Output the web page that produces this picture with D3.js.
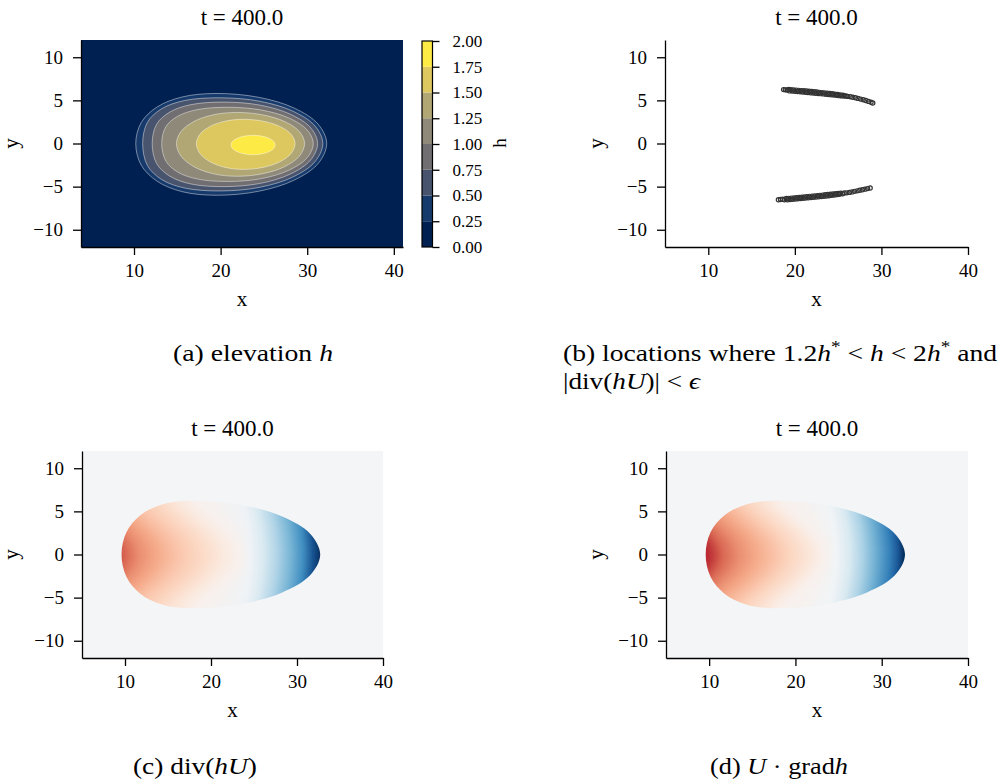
<!DOCTYPE html>
<html>
<head>
<meta charset="utf-8">
<script src="https://cdn.jsdelivr.net/npm/d3@7"></script>
<style>
body { margin: 0; background: #fff; }
svg, svg text { font-family: "Liberation Serif", "Tinos", "Times New Roman", "Nimbus Roman", "DejaVu Serif", serif; }
svg text { fill: #000; }
.axis path, .axis line { stroke: #000; stroke-width: 1.3; }
.axis text { font-size: 19px; }
.cbar text { font-size: 17px; }
.caption { font-size: 23px; }
</style>
</head>
<body>
<div id="chart"></div>
<script>
const xTicks = [10, 20, 30, 40];
const yTicks = [-10, -5, 0, 5, 10];
const hTicks = [0, 0.25, 0.5, 0.75, 1, 1.25, 1.5, 1.75, 2];
const hLevels = [0.25, 0.5, 0.75, 1.0, 1.25, 1.5, 1.75];

// contour lines of h in panel (a), [x, y]
const contour025 = [[32.25,0],[31.28,2.22],[28.51,4.1],[24.38,5.36],[19.5,5.8],[15.58,5.4],[12.69,4.25],[10.84,2.44],[10.2,0],[10.84,-2.53],[12.69,-4.39],[15.58,-5.59],[19.5,-6.0],[24.38,-5.54],[28.51,-4.24],[31.28,-2.3]];
const contour050 = [[31.8,0],[30.9,2.03],[28.34,3.75],[24.52,4.9],[20,5.3],[15.82,4.98],[13.18,4.02],[11.55,2.46],[11.0,0],[11.55,-2.55],[13.18,-4.17],[15.82,-5.16],[20,-5.5],[24.52,-5.08],[28.34,-3.89],[30.9,-2.11]];
const contour075 = [[31.2,0],[30.39,1.84],[28.06,3.39],[24.6,4.44],[20.5,4.8],[16.6,4.51],[14.13,3.64],[12.61,2.23],[12.1,0],[12.61,-2.32],[14.13,-3.79],[16.6,-4.7],[20.5,-5.0],[24.6,-4.62],[28.06,-3.54],[30.39,-1.92]];
const contour100 = [[30.7,0],[29.96,1.61],[27.86,2.97],[24.72,3.88],[21,4.2],[17.38,3.94],[15.09,3.18],[13.68,1.95],[13.2,0],[13.68,-2.04],[15.09,-3.34],[17.38,-4.13],[21,-4.4],[24.72,-4.07],[27.86,-3.11],[29.96,-1.69]];
const contour125 = [[29.7,0],[29.1,1.38],[27.39,2.55],[24.83,3.33],[21.8,3.6],[19.16,3.33],[16.92,2.55],[15.42,1.38],[14.9,0],[15.42,-1.46],[16.92,-2.69],[19.16,-3.51],[21.8,-3.8],[24.83,-3.51],[27.39,-2.69],[29.1,-1.46]];
const contour150 = [[28.6,0],[28.14,1.07],[26.84,1.98],[24.9,2.59],[22.6,2.8],[20.53,2.59],[18.78,1.98],[17.61,1.07],[17.2,0],[17.61,-1.15],[18.78,-2.12],[20.53,-2.77],[22.6,-3.0],[24.9,-2.77],[26.84,-2.12],[28.14,-1.15]];
const contour175 = [[26.3,-0.17],[26.11,0.26],[25.55,0.62],[24.73,0.86],[23.75,0.95],[22.77,0.86],[21.95,0.62],[21.39,0.26],[21.2,-0.17],[21.39,-0.6],[21.95,-0.97],[22.77,-1.21],[23.75,-1.3],[24.73,-1.21],[25.55,-0.97],[26.11,-0.6]];
const hContours = [contour025, contour050, contour075, contour100, contour125, contour150, contour175];

// selected locations, panel (b)
const upperArc = [[18.7,6.25],[18.9,6.22],[19.1,6.2],[19.3,6.26],[19.4,6.1],[19.55,6.24],[19.7,6.08],[19.85,6.22],[20.0,6.05],[20.15,6.19],[20.3,6.02],[20.45,6.16],[20.6,6.0],[20.75,6.13],[20.9,5.97],[21.05,6.11],[21.2,5.94],[21.35,6.08],[21.5,5.92],[21.65,6.06],[21.8,5.89],[21.95,6.03],[22.1,5.86],[22.25,6.0],[22.4,5.83],[22.55,5.97],[22.7,5.8],[22.85,5.93],[23.0,5.78],[23.15,5.9],[23.3,5.75],[23.45,5.87],[23.6,5.71],[23.75,5.84],[23.9,5.68],[24.05,5.8],[24.2,5.65],[24.35,5.76],[24.5,5.62],[24.65,5.72],[24.8,5.58],[24.95,5.68],[25.1,5.55],[25.25,5.64],[25.4,5.52],[25.55,5.6],[25.7,5.5],[25.9,5.52],[26.1,5.46],[26.4,5.42],[26.7,5.36],[27.0,5.3],[27.3,5.23],[27.6,5.15],[27.9,5.07],[28.2,4.98],[28.5,4.88],[28.8,4.78],[29.0,4.7]];
const lowerArc = [[18.1,-6.52],[18.35,-6.5],[18.6,-6.47],[18.8,-6.52],[19.0,-6.38],[19.15,-6.52],[19.3,-6.36],[19.45,-6.49],[19.6,-6.33],[19.75,-6.47],[19.9,-6.3],[20.05,-6.44],[20.2,-6.28],[20.35,-6.41],[20.5,-6.25],[20.65,-6.38],[20.8,-6.22],[20.95,-6.36],[21.1,-6.19],[21.25,-6.33],[21.4,-6.16],[21.55,-6.3],[21.7,-6.13],[21.85,-6.27],[22.0,-6.1],[22.15,-6.24],[22.3,-6.07],[22.45,-6.21],[22.6,-6.04],[22.75,-6.18],[22.9,-6.01],[23.05,-6.15],[23.2,-5.98],[23.35,-6.12],[23.5,-5.95],[23.65,-6.08],[23.8,-5.92],[23.95,-6.05],[24.1,-5.89],[24.25,-6.01],[24.4,-5.86],[24.55,-5.97],[24.7,-5.83],[24.85,-5.93],[25.0,-5.8],[25.15,-5.89],[25.3,-5.77],[25.5,-5.82],[25.7,-5.74],[26.0,-5.72],[26.3,-5.67],[26.6,-5.61],[26.9,-5.55],[27.2,-5.49],[27.5,-5.42],[27.8,-5.36],[28.1,-5.29],[28.4,-5.23],[28.7,-5.16]];

// outline of the wet region in panels (c) and (d)
const blobOutline = [[32.7,0],[31.55,2.39],[28.28,4.41],[23.38,5.77],[17.6,6.24],[14.29,5.8],[11.78,4.54],[10.16,2.58],[9.6,0],[10.16,-2.58],[11.78,-4.54],[14.29,-5.8],[17.6,-6.24],[23.38,-5.77],[28.28,-4.41],[31.55,-2.39]];
// values along y = 0, [x, value] (value scaled to -1..1)
const divProfile = [[9.6,-0.62],[10.5,-0.55],[11.8,-0.46],[13.8,-0.38],[15.7,-0.3],[17.6,-0.24],[19.6,-0.18],[21.5,-0.1],[23.4,-0.04],[24.6,0.04],[26.1,0.16],[27.6,0.3],[29.2,0.46],[30.7,0.62],[31.9,0.88],[32.6,0.98]];
const gradProfile = [[9.7,-0.76],[10.1,-0.74],[11.6,-0.58],[13.6,-0.46],[15.5,-0.38],[17.4,-0.3],[19.4,-0.22],[21.3,-0.14],[23.2,-0.05],[24.7,0.03],[26.3,0.16],[27.8,0.32],[29.4,0.5],[30.9,0.68],[31.9,0.86],[32.5,1.0]];
// how far the colour bands bend left at distance |y| from the axis: [|y|, red side, blue side]
const bandShift = [[0,0,0],[1,0.2,0],[2,0.8,0.1],[3,1.7,0.2],[4,2.8,0.4],[5,4.0,0.6],[6,5.0,0.8]];
const backgroundValue = 0.02;

const width = 1000, height = 781;
const svg = d3.select('#chart').append('svg')
    .attr('width', width)
    .attr('height', height);
const defs = svg.append('defs');

const hColor = d3.scaleThreshold()
    .domain(hLevels)
    .range(d3.quantize(d3.interpolateCividis, hLevels.length + 1));
const rdbu = d3.scaleDiverging([-1, 0, 1], d3.piecewise(d3.interpolateRgb, d3.schemeRdBu[11]));

function panel(box, xDomain){
    const x = d3.scaleLinear().domain(xDomain).range([box.left, box.right]);
    const y = d3.scaleLinear().domain([-12, 12]).range([box.bottom, box.top]);
    const g = svg.append('g');
    const plot = g.append('g');
    const axes = g.append('g');
    axes.append('g')
        .attr('class', 'axis')
        .attr('transform', `translate(0,${box.bottom})`)
        .call(d3.axisBottom(x).tickValues(xTicks).tickSize(8).tickSizeOuter(0).tickPadding(9).tickFormat(d3.format('d')))
        .attr('font-family', null).attr('font-size', null);
    axes.append('g')
        .attr('class', 'axis')
        .attr('transform', `translate(${box.left},0)`)
        .call(d3.axisLeft(y).tickValues(yTicks).tickSize(8).tickSizeOuter(0).tickPadding(10).tickFormat(d => d < 0 ? '\u2212' + Math.abs(d) : d))
        .attr('font-family', null).attr('font-size', null);
    g.append('text')
        .attr('x', (box.left + box.right) / 2)
        .attr('y', box.top - 15)
        .attr('text-anchor', 'middle')
        .style('font-size', '23px')
        .text('t = 400.0');
    g.append('text')
        .attr('x', (box.left + box.right) / 2)
        .attr('y', box.bottom + 59)
        .attr('text-anchor', 'middle')
        .style('font-size', '21px')
        .text('x');
    g.append('text')
        .attr('transform', `translate(${box.ylab},${(box.top + box.bottom) / 2}) rotate(-90)`)
        .attr('text-anchor', 'middle')
        .style('font-size', '21px')
        .text('y');
    return {x, y, plot, box};
}

const closedLine = p => d3.line()
    .x(d => p.x(d[0]))
    .y(d => p.y(d[1]))
    .curve(d3.curveCatmullRomClosed.alpha(0.5));

/* (a) elevation h ------------*/
const pa = panel({left: 81, right: 403, top: 40, bottom: 247, ylab: 18}, [3.88, 41.06]);
pa.plot.append('rect')
    .attr('x', 81).attr('y', 40)
    .attr('width', 403 - 81).attr('height', 247 - 40)
    .attr('fill', hColor(0));
pa.plot.selectAll('path.fill')
    .data(hContours)
    .join('path')
    .attr('class', 'fill')
    .attr('d', closedLine(pa))
    .attr('fill', (d, i) => hColor(hLevels[i]));
pa.plot.selectAll('path.line')
    .data(hContours)
    .join('path')
    .attr('class', 'line')
    .attr('d', closedLine(pa))
    .attr('fill', 'none')
    .attr('stroke', 'rgba(255,255,255,0.55)')
    .attr('stroke-width', 0.8);

// colorbar
const cb = d3.scaleLinear().domain([0, 2]).range([247, 41]);
const cbar = svg.append('g').attr('class', 'cbar');
cbar.selectAll('rect')
    .data(d3.pairs(hTicks))
    .join('rect')
    .attr('x', 422)
    .attr('width', 10.5)
    .attr('y', d => cb(d[1]))
    .attr('height', d => cb(d[0]) - cb(d[1]))
    .attr('fill', d => hColor(d[0]));
cbar.append('rect')
    .attr('x', 422).attr('y', 41)
    .attr('width', 10.5).attr('height', 206)
    .attr('fill', 'none')
    .attr('stroke', '#000')
    .attr('stroke-width', 1.2);
cbar.append('g')
    .attr('class', 'axis')
    .attr('transform', 'translate(432.5,0)')
    .call(d3.axisRight(cb).tickValues(hTicks).tickSize(7).tickSizeOuter(0).tickPadding(13).tickFormat(d3.format('.2f')))
    .attr('font-family', null).attr('font-size', null)
    .call(g => g.select('.domain').remove());
cbar.append('text')
    .attr('transform', 'translate(506,143) rotate(-90)')
    .attr('text-anchor', 'middle')
    .style('font-size', '19px')
    .text('h');

/* (b) selected locations ------------*/
const pb = panel({left: 665, right: 968, top: 40, bottom: 247, ylab: 603}, [5, 40]);
pb.plot.selectAll('circle')
    .data(upperArc.concat(lowerArc))
    .join('circle')
    .attr('cx', d => pb.x(d[0]))
    .attr('cy', d => pb.y(d[1]))
    .attr('r', 2.1)
    .attr('fill', 'none')
    .attr('stroke', '#333')
    .attr('stroke-width', 1.2);

/* (c), (d) fields ------------*/
function field(p, id, profile){
    const [x0, x1] = p.x.range();
    p.plot.append('rect')
        .attr('x', x0).attr('y', p.box.top)
        .attr('width', x1 - x0).attr('height', p.box.bottom - p.box.top)
        .attr('fill', rdbu(backgroundValue));
    defs.append('clipPath')
        .attr('id', id + '-clip')
        .append('path')
        .attr('d', closedLine(p)(blobOutline));
    defs.append('filter')
        .attr('id', id + '-blur')
        .attr('x', '-5%').attr('y', '-20%')
        .attr('width', '110%').attr('height', '140%')
        .append('feGaussianBlur')
        .attr('stdDeviation', '0 4');
    const maxY = d3.max(bandShift, d => d[0]);
    const rows = bandShift.flatMap(([ay, sl, sr]) => ay === 0 ? [[0, sl, sr]] : [[ay, sl, sr], [-ay, sl, sr]]);
    rows.forEach(([ry, sl, sr], i) => {
        const grad = defs.append('linearGradient')
            .attr('id', `${id}-row${i}`)
            .attr('gradientUnits', 'userSpaceOnUse')
            .attr('x1', x0).attr('x2', x1)
            .attr('y1', 0).attr('y2', 0);
        grad.selectAll('stop')
            .data(profile)
            .join('stop')
            .attr('offset', d => {
                const px = p.x(d[0] - (d[1] <= 0 ? sl : sr));
                return Math.max(0, Math.min(1, (px - x0) / (x1 - x0)));
            })
            .attr('stop-color', d => rdbu(d[1]));
    });
    const rowTop = d => d[0] === maxY ? 9 : d[0] + 0.5;
    const rowBottom = d => d[0] === -maxY ? -9 : d[0] - 0.5;
    const layer = p.plot.append('g')
        .attr('clip-path', `url(#${id}-clip)`)
        .append('g')
        .attr('filter', `url(#${id}-blur)`);
    layer.selectAll('rect')
        .data(rows)
        .join('rect')
        .attr('x', x0)
        .attr('width', x1 - x0)
        .attr('y', d => p.y(rowTop(d)))
        .attr('height', d => p.y(rowBottom(d)) - p.y(rowTop(d)) + 0.6)
        .attr('fill', (d, i) => `url(#${id}-row${i})`);
}

const pc = panel({left: 82, right: 383, top: 451, bottom: 658, ylab: 18}, [5, 40]);
field(pc, 'div', divProfile);
const pd = panel({left: 666, right: 968, top: 451, bottom: 658, ylab: 603}, [5, 40]);
field(pd, 'grad', gradProfile);

/* captions ------------*/
function caption(x, y, len, parts){
    const t = svg.append('text')
        .attr('class', 'caption')
        .attr('x', x).attr('y', y)
        .attr('textLength', len)
        .attr('lengthAdjust', 'spacingAndGlyphs');
    parts.forEach(([s, style]) => {
        const ts = t.append('tspan').text(s);
        if (style === 'i') ts.style('font-style', 'italic');
        if (style === 'sup') ts.attr('dy', -9).style('font-size', '16px');
        if (style === 'down') ts.attr('dy', 9);
    });
}
caption(173, 361, 160, [['(a) elevation '], ['h', 'i']]);
caption(563, 361, 434, [['(b) locations where 1.2'], ['h', 'i'], ['*', 'sup'], [' < ', 'down'], ['h', 'i'], [' < 2'], ['h', 'i'], ['*', 'sup'], [' and', 'down']]);
caption(563, 389, 137, [['|div('], ['hU', 'i'], [')| < '], ['\u03f5', 'i']]);
caption(133, 774, 124, [['(c) div('], ['hU', 'i'], [')']]);
caption(710, 774, 138, [['(d) '], ['U', 'i'], [' \u00b7 grad'], ['h', 'i']]);
</script>
</body>
</html>
